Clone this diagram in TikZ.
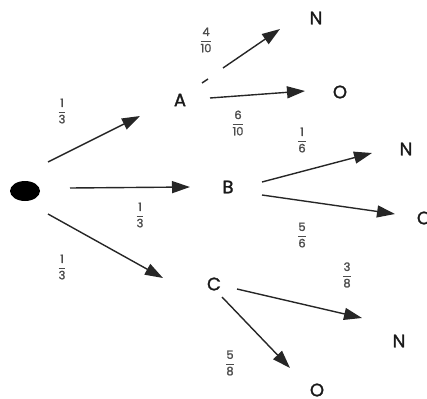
\documentclass[tikz,border=0pt]{standalone}
\usepackage{amsmath}
\usepackage{fontspec}
\setmainfont{Poppins}[FakeBold=1.6]
\usetikzlibrary{arrows.meta,shapes.geometric}
\newcommand{\fr}[2]{$\displaystyle\frac{\text{#1}}{\text{#2}}$}

\begin{document}
\begin{tikzpicture}[x=1pt, y=-1pt, >={Triangle[length=18pt,width=12pt]},
    branch/.style={->, line width=1.4pt, draw=black!85},
    event/.style={inner sep=0pt, font=\fontsize{18}{20}\selectfont, text=black!90},
    prob/.style={inner sep=0pt, font=\fontsize{11.5}{13}\selectfont, text=black!70}]
  \useasboundingbox (0,0) rectangle (427,398);
  % 根と第1段
  \node[ellipse, fill=black, minimum width=30pt, minimum height=20pt, inner sep=0pt] (root) at (25,191) {};
  \node[event] (A) at (180,100) {A};
  \node[event] (B) at (228,187) {B};
  \node[event] (C) at (214,284) {C};
  % 第2段
  \node[event] (AN) at (316,18) {N};
  \node[event] (AO) at (340,92) {O};
  \node[event] (BN) at (406,149) {N};
  \node[event] (BO) at (424,218) {O};
  \node[event] (CN) at (399,341) {N};
  \node[event] (CO) at (317,390) {O};
  % 矢印の端点
  \coordinate (rA) at (48,162);  \coordinate (hA) at (140,116);
  \coordinate (rB) at (70,188);  \coordinate (hB) at (190,187);
  \coordinate (rC) at (48,214);  \coordinate (hC) at (163,278);
  \coordinate (aN) at (223,68);  \coordinate (hAN) at (280,29);
  \coordinate (aO) at (210,98);  \coordinate (hAO) at (305,91);
  \coordinate (bN) at (262,182); \coordinate (hBN) at (372,153);
  \coordinate (bO) at (262,195); \coordinate (hBO) at (395,214);
  \coordinate (cN) at (237,289); \coordinate (hCN) at (362,318);
  \coordinate (cO) at (222,297); \coordinate (hCO) at (290,368);
  \coordinate (t1) at (202,83);  \coordinate (t2) at (208,79);
  % 枝
  \draw[branch] (rA) -- (hA);
  \draw[branch] (rB) -- (hB);
  \draw[branch] (rC) -- (hC);
  \draw[branch] (aN) -- (hAN);
  \draw[branch] (aO) -- (hAO);
  \draw[branch] (bN) -- (hBN);
  \draw[branch] (bO) -- (hBO);
  \draw[branch] (cN) -- (hCN);
  \draw[branch] (cO) -- (hCO);
  \draw[line width=1.4pt, draw=black!85] (t1) -- (t2);
  % 確率
  \node[prob] (p1) at (62,111) {\fr{1}{3}};
  \node[prob] (p2) at (140,215) {\fr{1}{3}};
  \node[prob] (p3) at (62,267) {\fr{1}{3}};
  \node[prob] (p4) at (206,40) {\fr{4}{10}};
  \node[prob] (p5) at (238,123) {\fr{6}{10}};
  \node[prob] (p6) at (302,140) {\fr{1}{6}};
  \node[prob] (p7) at (302,235) {\fr{5}{6}};
  \node[prob] (p8) at (347,275) {\fr{3}{8}};
  \node[prob] (p9) at (230,363) {\fr{5}{8}};
\end{tikzpicture}
\end{document}
